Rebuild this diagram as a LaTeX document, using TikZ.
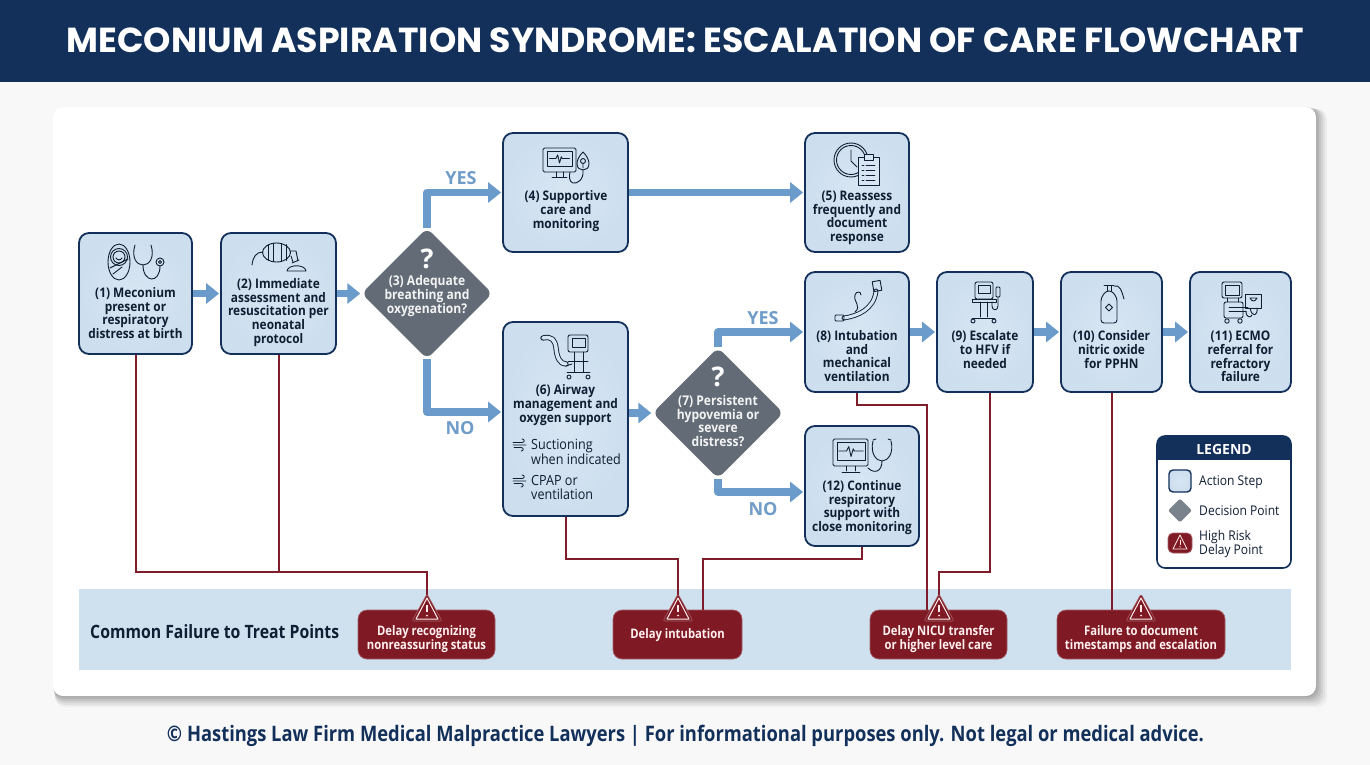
\documentclass[tikz,border=0pt]{standalone}
\usepackage{fontspec}
\usepackage{graphicx}
\usetikzlibrary{arrows.meta,shapes.geometric,calc}
\setmainfont{Open Sans}
\newfontfamily\boxf[FakeStretch=0.9]{Open Sans}
\newfontfamily\redf[FakeStretch=0.86]{Open Sans}
\newfontfamily\titlef{Poppins}
\definecolor{navy}{HTML}{12305A}
\definecolor{ink}{HTML}{0F1E33}
\definecolor{boxfill}{HTML}{D8E6F3}
\definecolor{boxedge}{HTML}{CDDEEE}
\definecolor{flowblue}{HTML}{6A9BCB}
\definecolor{yesblue}{HTML}{6F9CC8}
\definecolor{slate}{HTML}{636C76}
\definecolor{riskred}{HTML}{7F1A24}
\definecolor{wire}{HTML}{7F1E2A}
\definecolor{band}{HTML}{CFE0EF}
\definecolor{pagebg}{HTML}{F8F8F8}
\tikzset{
  stepbox/.style={draw=navy,line width=1.8pt,rounded corners=10pt,inner color=boxfill,outer color=boxedge,inner sep=0pt},
  diam/.style={diamond,fill=slate,rounded corners=7pt,inner sep=0pt,aspect=1},
  btxt/.style={font=\boxf\bfseries\fontsize{13.2}{13.7}\selectfont,text=ink,align=center,inner sep=0pt},
  wtxt/.style={font=\boxf\bfseries\fontsize{13.4}{13.6}\selectfont,text=white!92!slate,align=center,inner sep=0pt},
  qmark/.style={font=\bfseries\fontsize{27}{27}\selectfont,text=white,inner sep=0pt},
  side/.style={font=\boxf\fontsize{14}{13.9}\selectfont,text=ink,align=left,inner sep=0pt,anchor=west},
  flow/.style={draw=flowblue,line width=7.5pt,line join=round,-{Triangle[length=13pt,width=20pt]},shorten >=1pt},
  yesno/.style={font=\bfseries\fontsize{18}{18}\selectfont,text=yesblue,inner sep=0pt},
  riskwire/.style={draw=wire,line width=2pt,line join=miter},
  redbox/.style={draw=riskred!70!white,line width=0.7pt,fill=riskred,rounded corners=9pt,inner sep=0pt},
  rtxt/.style={font=\redf\bfseries\fontsize{13.1}{14}\selectfont,text=white!94!red,align=center,inner sep=0pt},
  ico/.style={draw=ink,line width=0.9pt,line cap=round,line join=round},
  legtxt/.style={font=\boxf\fontsize{13.4}{14}\selectfont,text=ink,align=left,inner sep=0pt,anchor=west}
}
\newcommand{\ecgline}[3]{\draw[ico,shift={(#1,#2)},scale=#3] (-11,0)--(-4,0)--(-2,-4)--(0,5)--(2,-2)--(3,0)--(11,0);}
\newcommand{\wind}[2]{\draw[ico,line width=0.8pt,shift={(#1,#2)}] (0,-1.5)--(9,-1.5) .. controls (12,-1.5) and (12,-5) .. (9,-5) (0,1)--(13,1) (1,3.5)--(8,3.5) .. controls (11,3.5) and (11,7) .. (8,7);}
\newcommand{\warnmark}[1]{%
  \fill[riskred,draw=riskred!70!white,line width=0.6pt,line join=round,rounded corners=2pt] (#1,594)--(#1+15,621)--(#1-15,621)--cycle;
  \draw[white!92!red,line width=1pt,line join=round] (#1,598)--(#1+11,619)--(#1-11,619)--cycle;
  \draw[white!92!red,line width=1.5pt] (#1,605)--(#1,612);
  \fill[white!92!red] (#1,615.5) circle (1);
}
\begin{document}
\begin{tikzpicture}[x=1pt,y=-1pt]
\useasboundingbox (0,0) rectangle (1370,765);
\fill[pagebg] (0,0) rectangle (1370,765);
% header
\fill[navy] (0,0) rectangle (1370,82);
\node[text=white,inner sep=0pt] (title) at (685.5,40) {\resizebox{1237pt}{!}{\titlef\bfseries MECONIUM ASPIRATION SYNDROME: ESCALATION OF CARE FLOWCHART}};
% card with soft shadow
\foreach \o/\a in {11/0.04,9/0.05,7/0.06,5/0.07,3/0.08,1/0.09}{
  \fill[black,opacity=\a,rounded corners=10pt] (53+\o*0.2,107+\o*0.2) rectangle (1316+\o,696+\o);
}
\fill[white,rounded corners=10pt] (53,107) rectangle (1316,696);
% band
\fill[band] (79,589) rectangle (1291,670);
\node[inner sep=0pt,anchor=west,text=ink] (bandlabel) at (90,632) {\resizebox{249pt}{!}{\redf\bfseries Common Failure to Treat Points}};
% step boxes
\node[stepbox,minimum width=113pt,minimum height=121pt] (b1) at (135.5,293.5) {};
\node[stepbox,minimum width=115pt,minimum height=121pt] (b2) at (278.5,293.5) {};
\node[stepbox,minimum width=125pt,minimum height=119pt] (b4) at (565.5,192.5) {};
\node[stepbox,minimum width=104pt,minimum height=119pt] (b5) at (857,192.5) {};
\node[stepbox,minimum width=125pt,minimum height=194pt] (b6) at (565.5,419) {};
\node[stepbox,minimum width=104pt,minimum height=120pt] (b8) at (857,332) {};
\node[stepbox,minimum width=114pt,minimum height=120pt] (b12) at (862,486) {};
\node[stepbox,minimum width=96pt,minimum height=120pt] (b9) at (985,332) {};
\node[stepbox,minimum width=101pt,minimum height=120pt] (b10) at (1111.5,332) {};
\node[stepbox,minimum width=101pt,minimum height=120pt] (b11) at (1240.5,332) {};
% decision diamonds
\node[diam,minimum width=131pt,minimum height=131pt] (d3) at (427,293.5) {};
\node[diam,minimum width=131pt,minimum height=131pt] (d7) at (718,413) {};
% red boxes
\node[redbox,minimum width=137pt,minimum height=49pt] (rA) at (426.5,634.5) {};
\node[redbox,minimum width=129pt,minimum height=49pt] (rB) at (677.5,634.5) {};
\node[redbox,minimum width=137pt,minimum height=49pt] (rC) at (938.5,634.5) {};
\node[redbox,minimum width=168pt,minimum height=49pt] (rD) at (1141,634.5) {};
% named ends of the risk wires
\coordinate (tA) at (427,596);
\coordinate (tB) at (678,596);
\coordinate (tC) at (939,596);
\coordinate (jA) at (427,572);
\coordinate (jB) at (678,559);
\coordinate (jB2) at (703,559);
\coordinate (jC) at (927,405);
\coordinate (jC2) at (939,572);
% risk wires
\draw[riskwire] (b1.south) |- (jA) -- (tA);
\draw[riskwire] ([xshift=0.5pt]b2.south) -- ([xshift=0.5pt]b2.south |- jA);
\draw[riskwire] (b6.south) |- (jB) -- (tB);
\draw[riskwire] (b12.south) |- (jB2) -- (jB2 |- rB.north);
\draw[riskwire] (b8.south) |- (jC) -- (jC |- rC.north);
\draw[riskwire] ([xshift=5pt]b9.south) |- (jC2) -- (tC);
\draw[riskwire] ([xshift=0.5pt]b10.south) -- ([xshift=0.5pt]b10.south |- rD.north);
% warning marks
\warnmark{427}\warnmark{678}\warnmark{939}\warnmark{1141}
% flow arrows
\draw[flow] (b1.east) -- (b2.west);
\draw[flow] (b2.east) -- (d3.west);
\draw[flow] (d3.north) |- (b4.west);
\draw[flow] (d3.south) |- ([yshift=7pt]b6.west);
\draw[flow] (b4.east) -- (b5.west);
\draw[flow] (b6.east |- d7.west) -- (d7.west);
\draw[flow] (d7.north) |- (b8.west);
\draw[flow] (d7.south) |- ([yshift=-6pt]b12.west);
\draw[flow] (b8.east) -- (b9.west);
\draw[flow] (b9.east) -- (b10.west);
\draw[flow] (b10.east) -- (b11.west);
% branch labels
\node[yesno] (y1) at (461,178.5) {YES};
\node[yesno] (n1) at (460,428.5) {NO};
\node[yesno] (y2) at (763,318.5) {YES};
\node[yesno] (n2) at (763,509.5) {NO};
% labels
\node[btxt] (t1) at (135.5,313) {(1) Meconium\\present or\\respiratory\\distress at birth};
\node[btxt] (t2) at (278.5,312.5) {(2) Immediate\\assessment and\\resuscitation per\\neonatal\\protocol};
\node[qmark] (q3) at (427,259) {?};
\node[wtxt] (t3) at (427,296) {(3) Adequate\\breathing and\\oxygenation?};
\node[btxt] (t4) at (566,211) {(4) Supportive\\care and\\monitoring};
\node[btxt] (t5) at (857,218) {(5) Reassess\\frequently and\\document\\response};
\node[btxt] (t6) at (565.5,405) {(6) Airway\\management and\\oxygen support};
\node[side] (s1) at (531,451.5) {Suctioning\\when indicated};
\node[side] (s2) at (531,487.5) {CPAP or\\ventilation};
\node[qmark] (q7) at (718,377) {?};
\node[wtxt] (t7) at (718,421) {(7) Persistent\\hypovemia or\\severe\\distress?};
\node[btxt] (t8) at (857,356) {(8) Intubation\\and\\mechanical\\ventilation};
\node[btxt] (t12) at (862,507.5) {(12) Continue\\respiratory\\support with\\close monitoring};
\node[btxt] (t9) at (985,349.5) {(9) Escalate\\to HFV if\\needed};
\node[btxt] (t10) at (1111.5,349.5) {(10) Consider\\nitric oxide\\for PPHN};
\node[btxt] (t11) at (1240.5,356.5) {(11) ECMO\\referral for\\refractory\\failure};
\node[rtxt] (rAt) at (426.5,639) {Delay recognizing\\nonreassuring status};
\node[rtxt] (rBt) at (677.5,635.5) {Delay intubation};
\node[rtxt] (rCt) at (938.5,639) {Delay NICU transfer\\or higher level care};
\node[rtxt] (rDt) at (1141,639) {Failure to document\\timestamps and escalation};
% legend
\draw[navy,line width=1.6pt,fill=white,rounded corners=8pt] (1157,436) rectangle (1291,568);
\fill[navy,rounded corners=8pt] (1157,436) rectangle (1291,452);
\fill[navy] (1157,446) rectangle (1291,460);
\node[inner sep=0pt,text=white,font=\bfseries\fontsize{14}{14}\selectfont] (legt) at (1224,449) {LEGEND};
\node[stepbox,line width=1.4pt,rounded corners=4pt,minimum width=22pt,minimum height=22pt] (lg1) at (1180,481) {};
\node[diam,rounded corners=2pt,minimum width=24pt,minimum height=24pt,fill=slate!85!white] (lg2) at (1180,510.5) {};
\node[redbox,rounded corners=5pt,minimum width=24pt,minimum height=20pt] (lg3) at (1180,543) {};
\draw[white!92!red,line width=0.8pt,line join=round] (1180,535)--(1187,549)--(1173,549)--cycle;
\draw[white!92!red,line width=0.9pt] (1180,539.5)--(1180,544.5);
\fill[white!92!red] (1180,546.8) circle (0.7);
\node[legtxt] (lt1) at (1199,482) {Action Step};
\node[legtxt] (lt2) at (1199,511) {Decision Point};
\node[legtxt] (lt3) at (1199,544.5) {High Risk\\Delay Point};
% footer
\node[inner sep=0pt,text=navy] (foot) at (685.5,736) {\resizebox{1037pt}{!}{\redf\bfseries © Hastings Law Firm Medical Malpractice Lawyers | For informational purposes only. Not legal or medical advice.}};
% ---- icons ----
% 1 baby and stethoscope
\draw[ico] (119,262) ellipse (11 and 18);
\draw[ico] (119,257) circle (8.5) (119,257) circle (6);
\draw[ico] (116,258) .. controls (118,260.5) and (120,260.5) .. (122,258);
\draw[ico] (110,268)--(128,259) (113,274)--(122,267);
\draw[ico] (135,245) .. controls (131,258) and (137,265) .. (143,265) .. controls (149,265) and (155,258) .. (151,245);
\draw[ico] (143,265) .. controls (143,283) and (160,284) .. (160,266);
\draw[ico] (160,262) circle (4) (160,262) circle (1.5);
% 2 bag and mask
\draw[ico] (276.5,252.5) ellipse (14 and 9.5);
\draw[ico] (268,244.5)--(268,260.5) (273,243.5)--(273,261.5) (281,243.5)--(281,261.5) (286,244.5)--(286,260.5);
\draw[ico] (263,252) .. controls (256,252) and (253,257) .. (252,265);
\draw[ico] (290,251)--(296,251)--(298,261) (291,256)--(293,262);
\draw[ico] (287,271) .. controls (288,264) and (305,264) .. (306,271) -- cycle;
\draw[ico] (292,263)--(299,260);
% 4 monitor and mask
\draw[ico,rounded corners=1.5pt] (543,148) rectangle (576,172);
\draw[ico] (547,151) rectangle (572,166);
\ecgline{559.5}{158.5}{0.9}
\draw[ico] (556,172)--(556,177) (563,172)--(563,177) (552,177.5)--(567,177.5);
\draw[ico] (583,152) .. controls (579,156) and (577,160) .. (577,164) .. controls (577,168) and (580,170) .. (583,170) .. controls (586,170) and (589,168) .. (589,164) .. controls (589,160) and (587,156) .. (583,152);
\draw[ico] (583,161) circle (2.5) (583,163)--(583,168);
\draw[ico] (583,170) .. controls (584,180) and (577,184) .. (573,183) .. controls (569,182) and (569,176) .. (570,172);
% 5 clock and clipboard
\draw[ico] (851,160) circle (17) (851,160) circle (14.5);
\draw[ico] (851,150)--(851,161)--(857,167);
\draw[ico,fill=boxfill] (858,157) rectangle (879,185);
\draw[ico,fill=boxfill] (864,154) rectangle (873,160);
\foreach \yy in {165,170,175,180}{\draw[ico] (862,\yy)--(864,\yy) (866,\yy)--(875,\yy);}
% 6 ventilator
\draw[ico,rounded corners=2pt] (568,335) rectangle (588,352);
\draw[ico] (572,338) rectangle (585,347);
\draw[ico] (574,352)--(574,372) (583,352)--(583,372) (567,372)--(590,372) (568,361)--(588,361);
\draw[ico] (569,377) circle (2) (588,377) circle (2);
\draw[ico,double=boxfill,double distance=3.5pt] (543,338) .. controls (552,336) and (555,340) .. (556,348) .. controls (557,358) and (560,364) .. (566,364);
\draw[ico] (566,366)--(572,364);
% 8 tube
\draw[ico,double=boxfill,double distance=3pt] (876,291) .. controls (874,309) and (858,316) .. (844,318);
\draw[ico,rotate around={10:(877,286)}] (873,281) rectangle (881,291);
\draw[ico,rounded corners=1pt] (835,315) rectangle (844,321);
\draw[ico] (855,312) .. controls (862,306) and (853,302) .. (855,295) .. controls (856,291) and (861,291) .. (861,295);
% 12 monitor and stethoscope
\draw[ico,rounded corners=1.5pt] (833,439) rectangle (868,466);
\draw[ico] (837,442) rectangle (865,460);
\ecgline{851}{451}{1.1}
\draw[ico] (846,466)--(846,471) (855,466)--(855,471) (842,472)--(860,472);
\draw[ico] (873,441) .. controls (870,453) and (876,461) .. (882,461) .. controls (888,461) and (894,453) .. (891,441);
\draw[ico] (882,461) .. controls (882,472) and (874,474) .. (868,468);
\draw[ico] (873,440)--(876,439) (891,440)--(888,439);
% 9 HFV cart
\draw[ico,rounded corners=2pt] (975,282) rectangle (993,299);
\draw[ico] (978,285) rectangle (990,293);
\draw[ico] (972,299) rectangle (996,302);
\draw[ico] (980,302)--(980,317) (987,302)--(987,317) (972,318)--(995,318);
\draw[ico] (973,321) circle (2) (994,321) circle (2);
\draw[ico,rounded corners=1pt] (996,287) rectangle (1000,297);
\draw[ico] (998,297)--(998,306) .. controls (998,311) and (992,311) .. (992,306)--(992,302);
% 10 cylinder
\draw[ico,rounded corners=3pt] (1101,323) -- (1101,298) -- (1106,291) -- (1112,291) -- (1117,298) -- (1117,323) -- cycle;
\draw[ico] (1107,291)--(1107,286) (1111,291)--(1111,286) (1104,285)--(1114,285);
\draw[ico] (1114,286) .. controls (1120,284) and (1122,292) .. (1124,299);
\draw[ico] (1109,304)--(1112.5,307.5)--(1109,311)--(1105.5,307.5)--cycle;
% 11 ECMO
\draw[ico,rounded corners=2pt] (1222,282) rectangle (1242,298);
\draw[ico] (1225,285) rectangle (1239,295);
\draw[ico,rounded corners=2pt] (1224,302) rectangle (1243,318);
\draw[ico] (1227,298)--(1227,302) (1238,298)--(1238,302);
\draw[ico] (1227,321) circle (2.2) (1240,321) circle (2.2);
\draw[ico] (1245,294) rectangle (1261,308);
\draw[ico] (1250,298) .. controls (1252,302) and (1255,302) .. (1257,298) -- cycle;
\draw[ico] (1229,307)--(1248,307) (1229,311)--(1246,311);
\draw[ico] (1250,308) .. controls (1252,318) and (1258,316) .. (1257,308);
\draw[ico] (1246,311) .. controls (1246,318) and (1251,318) .. (1252,315);
% side bullets
\wind{513}{444}
\wind{513}{480}
\end{tikzpicture}
\end{document}
